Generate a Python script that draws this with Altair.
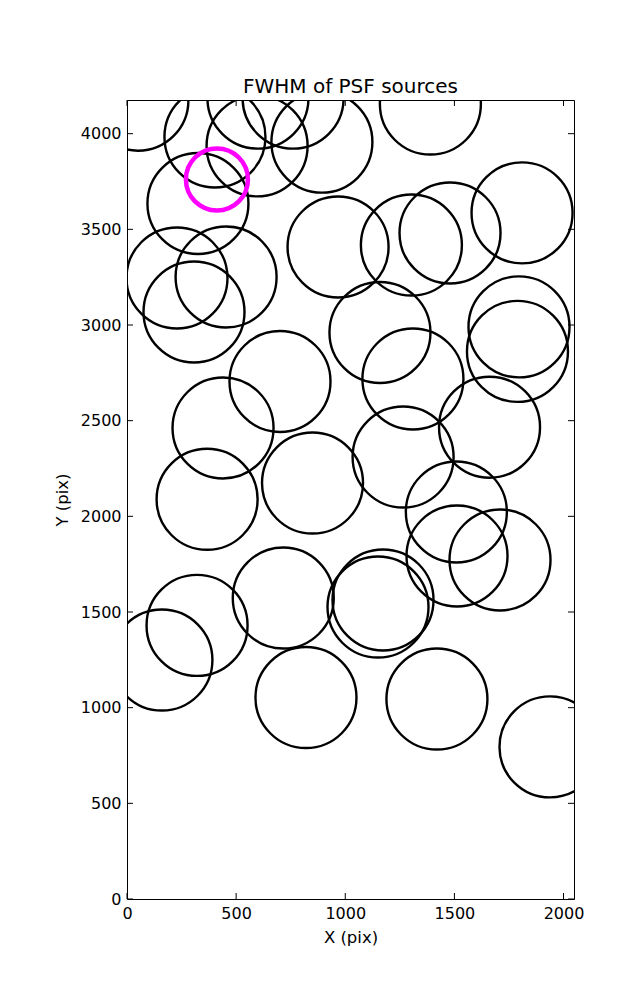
import altair as alt
import pandas as pd

# circle centres in data units (pixels of the detector)
src_x = [50, 403, 596, 600, 761, 893, 1390, 325, 967, 1303, 1480, 1810,
         229, 454, 307, 1159, 1796, 1789, 701, 1310, 440, 1661, 1265, 850,
         367, 1509, 1512, 1709, 716, 1173, 1150, 321, 160, 820, 1420, 1938]
src_y = [4175, 3983, 3936, 4186, 4186, 3956, 4155, 3635, 3408, 3418, 3481, 3586,
         3246, 3251, 3068, 2961, 2990, 2862, 2705, 2718, 2462, 2466, 2310, 2174,
         2089, 2023, 1793, 1772, 1573, 1563, 1526, 1430, 1249, 1053, 1045, 795]
hl_x = [412]
hl_y = [3761]

x_ticks = [0, 500, 1000, 1500, 2000]
y_ticks = [0, 500, 1000, 1500, 2000, 2500, 3000, 3500, 4000]
x_max = 2048
y_max = 4176

W, H = 447, 799
FONT = "DejaVu Sans"

src = pd.DataFrame({"x": src_x, "y": src_y})
hl = pd.DataFrame({"x": hl_x, "y": hl_y})
xt = pd.DataFrame({"t": x_ticks})
yt = pd.DataFrame({"t": y_ticks})

xs = alt.Scale(domain=[0, x_max], nice=False, zero=False)
ys = alt.Scale(domain=[0, y_max], nice=False, zero=False)

common = dict(ticks=False, tickSize=0, grid=False, domain=True,
              domainColor="black", domainWidth=1)

xaxis = alt.Axis(values=x_ticks, orient="bottom",
                 labelFont=FONT, labelFontSize=16, labelColor="black", labelPadding=6,
                 labelFlush=False, labelOverlap=False, title="X (pix)", titleFont=FONT,
                 titleFontSize=16.5, titleFontWeight="normal", titleColor="black",
                 titlePadding=8, format="d", **common)
yaxis = alt.Axis(values=y_ticks, orient="left",
                 labelFont=FONT, labelFontSize=16, labelColor="black", labelPadding=6,
                 labelFlush=False, labelOverlap=False, title="Y (pix)", titleFont=FONT,
                 titleFontSize=16.5, titleFontWeight="normal", titleColor="black",
                 titlePadding=10, format="d", **common)
xaxis_top = alt.Axis(orient="top", labels=False, title=None, **common)
yaxis_right = alt.Axis(orient="right", labels=False, title=None, **common)

circles = alt.Chart(src).mark_point(
    shape="circle", filled=False, color="black", strokeWidth=2.4, size=10201,
    opacity=1, clip=True
).encode(x=alt.X("x:Q", scale=xs, axis=xaxis), y=alt.Y("y:Q", scale=ys, axis=yaxis))

hilite = alt.Chart(hl).mark_point(
    shape="circle", filled=False, color="magenta", strokeWidth=4.5, size=3844,
    opacity=1, clip=True
).encode(x=alt.X("x:Q", scale=xs, axis=None), y=alt.Y("y:Q", scale=ys, axis=None))

TL = 6
tick_b = alt.Chart(xt).mark_rule(color="black", strokeWidth=1).encode(
    x=alt.X("t:Q", scale=xs, axis=None), y=alt.value(H), y2=alt.value(H - TL))
tick_t = alt.Chart(xt).mark_rule(color="black", strokeWidth=1).encode(
    x=alt.X("t:Q", scale=xs, axis=xaxis_top), y=alt.value(0), y2=alt.value(TL))
tick_l = alt.Chart(yt).mark_rule(color="black", strokeWidth=1).encode(
    y=alt.Y("t:Q", scale=ys, axis=None), x=alt.value(0), x2=alt.value(TL))
tick_r = alt.Chart(yt).mark_rule(color="black", strokeWidth=1).encode(
    y=alt.Y("t:Q", scale=ys, axis=yaxis_right), x=alt.value(W), x2=alt.value(W - TL))

chart = alt.layer(circles, hilite, tick_b, tick_t, tick_l, tick_r).resolve_axis(
    x="independent", y="independent"
).properties(
    width=W, height=H,
    title=alt.TitleParams("FWHM of PSF sources", font=FONT, fontSize=20,
                          fontWeight="normal", color="black", anchor="middle",
                          baseline="alphabetic", offset=-13, frame="group"),
    autosize=alt.AutoSizeParams(type="none"),
    padding={"left": 119, "top": 92, "right": 40, "bottom": 90},
).configure_view(strokeWidth=0).configure(background="white")

chart.save("out.html", embed_options={"renderer": "svg", "actions": False})
